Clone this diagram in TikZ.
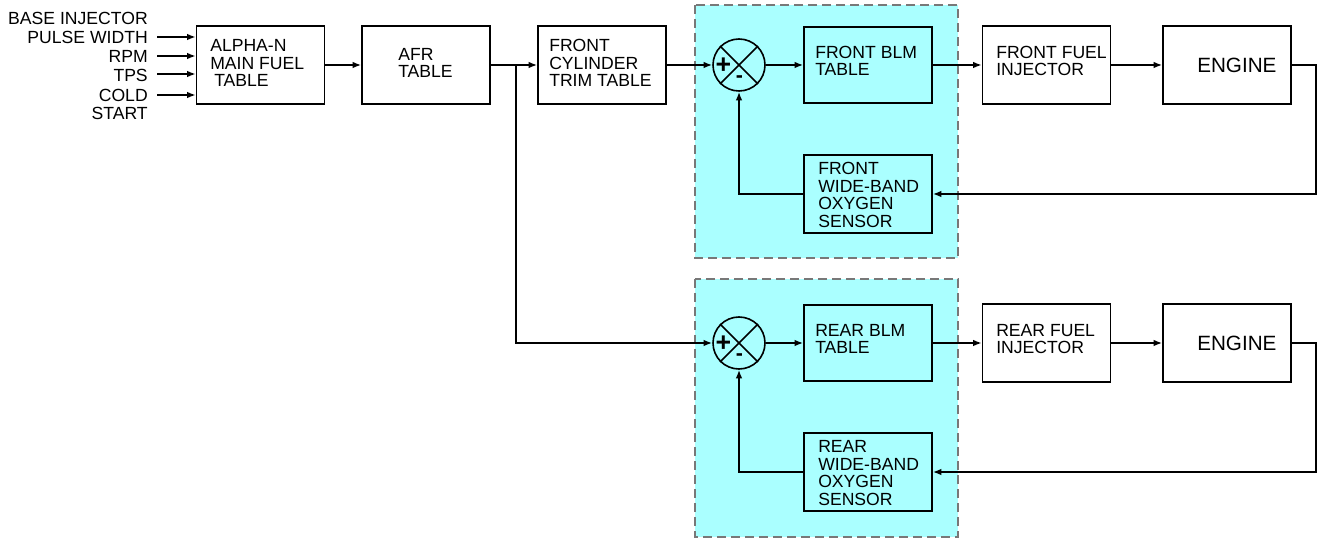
\documentclass[tikz,border=0pt]{standalone}
\usepackage{fontspec}
\setmainfont{Liberation Sans}
\usetikzlibrary{arrows.meta}
\definecolor{zonecyan}{RGB}{170,255,255}
\definecolor{zoneedge}{RGB}{120,120,120}
\tikzset{
  blk/.style={draw=black, line width=1.2pt, inner sep=0pt, minimum width=96pt, minimum height=58.5pt},
  txt/.style={inner sep=0pt, align=left, anchor=west, font=\fontsize{13.2}{13.1}\selectfont},
  bigtxt/.style={inner sep=0pt, align=left, anchor=west, font=\fontsize{15.5}{15.5}\selectfont},
  lbl/.style={inner sep=0pt, align=right, anchor=east, font=\fontsize{13.2}{13.1}\selectfont},
  arr/.style={line width=1.2pt, -{Latex[length=6.5pt,width=5pt]}},
  ln/.style={line width=1.2pt},
  sumj/.style={draw=black, line width=1.2pt, circle, inner sep=0pt, minimum size=39pt},
  plus/.style={inner sep=0pt, font=\fontsize{20}{20}\selectfont\bfseries},
  minus/.style={inner sep=0pt, font=\fontsize{16}{16}\selectfont\bfseries},
  zone/.style={fill=zonecyan, draw=zoneedge, line width=1.1pt, dash pattern=on 7pt off 3.5pt},
}
\begin{document}
\begin{tikzpicture}[x=0.75pt,y=-0.75pt]
\useasboundingbox (0,0) rectangle (1318,538);
% shaded zones
\draw[zone] (695,5) rectangle (958,258);
\draw[zone] (695,279) rectangle (958,537);

% input labels
\node[lbl] (lb1) at (148,18) {BASE INJECTOR};
\node[lbl] (lb2) at (148,37) {PULSE WIDTH};
\node[lbl] (lb3) at (148,56) {RPM};
\node[lbl] (lb4) at (148,75) {TPS};
\node[lbl] (lb5) at (148,95) {COLD};
\node[lbl] (lb6) at (148,113) {START};

% front chain
\node[blk] (alpha) at (260.5,65) {};
\node[txt] (alphat) at (210,63) {ALPHA-N\\MAIN FUEL\\\hspace*{3pt}TABLE};
\node[blk] (afr) at (426,65) {};
\node[txt] (afrt) at (398,63) {AFR\\TABLE};
\node[blk] (trim) at (602,65) {};
\node[txt] (trimt) at (549,63) {FRONT\\CYLINDER\\TRIM TABLE};
\node[sumj] (s1) at (739,65) {};
\draw[ln] (s1.north west) -- (s1.south east) (s1.north east) -- (s1.south west);
\node[plus] (p1) at (723.5,66) {+};
\node[minus] (m1) at (739.5,79) {-};
\node[blk, fill=zonecyan, minimum height=57pt] (blm1) at (868,65) {};
\node[txt] (blm1t) at (815,61) {FRONT BLM\\TABLE};
\node[blk] (inj1) at (1046.5,65) {};
\node[txt] (inj1t) at (996,61) {FRONT FUEL\\INJECTOR};
\node[blk] (eng1) at (1227,65) {};
\node[bigtxt] (eng1t) at (1197,65) {ENGINE};
\node[blk, fill=zonecyan] (sens1) at (868,194) {};
\node[txt] (sens1t) at (818,195) {FRONT\\WIDE-BAND\\OXYGEN\\SENSOR};

% rear chain
\node[sumj] (s2) at (739,343) {};
\draw[ln] (s2.north west) -- (s2.south east) (s2.north east) -- (s2.south west);
\node[plus] (p2) at (723.5,344) {+};
\node[minus] (m2) at (739.5,357) {-};
\node[blk, fill=zonecyan, minimum height=57pt] (blm2) at (868,343) {};
\node[txt] (blm2t) at (815,339) {REAR BLM\\TABLE};
\node[blk] (inj2) at (1046.5,343) {};
\node[txt] (inj2t) at (996,339) {REAR FUEL\\INJECTOR};
\node[blk] (eng2) at (1227,343) {};
\node[bigtxt] (eng2t) at (1197,343) {ENGINE};
\node[blk, fill=zonecyan] (sens2) at (868,472) {};
\node[txt] (sens2t) at (818,473) {REAR\\WIDE-BAND\\OXYGEN\\SENSOR};

% input arrows
\foreach \i/\y in {1/37,2/56,3/74,4/95}{
  \coordinate (in\i) at (157,\y);
  \draw[arr] (in\i) -- (in\i -| alpha.west);
}

% main connectors
\draw[arr] (alpha) -- (afr);
\draw[arr] (afr) -- (trim);
\draw[arr] (trim) -- (s1);
\draw[arr] (s1) -- (blm1);
\draw[arr] (blm1) -- (inj1);
\draw[arr] (inj1) -- (eng1);
\coordinate (fb1) at (1316,65);
\draw[arr] (eng1.east) -- (fb1) |- (sens1.east);
\draw[arr] (sens1.west) -| (s1.south);

\coordinate (br) at (516,65);
\draw[arr] (br) |- (s2.west);
\draw[arr] (s2) -- (blm2);
\draw[arr] (blm2) -- (inj2);
\draw[arr] (inj2) -- (eng2);
\coordinate (fb2) at (1316,343);
\draw[arr] (eng2.east) -- (fb2) |- (sens2.east);
\draw[arr] (sens2.west) -| (s2.south);
\end{tikzpicture}
\end{document}
